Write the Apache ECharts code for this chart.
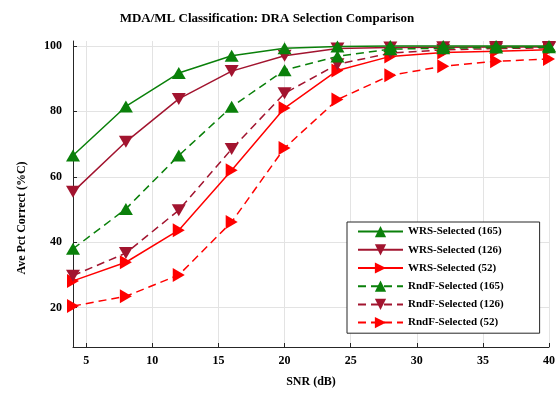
<!DOCTYPE html>
<html>
<head>
<meta charset="utf-8">
<script src="https://cdn.jsdelivr.net/npm/echarts@6/dist/echarts.min.js"></script>
<style>
  html, body { margin: 0; padding: 0; background: #fff; }
  #main { width: 558px; height: 393px; }
</style>
</head>
<body>
<div id="main"></div>
<script>
// SNR values (dB)
var snr = [4, 8, 12, 16, 20, 24, 28, 32, 36, 40];

// average percent correct per series
var wrs165 = [66.5, 81.5, 91.7, 97, 99.3, 99.8, 100, 100, 100, 100];
var wrs126 = [55.4, 70.7, 83.8, 92.3, 97, 99.2, 99.5, 99.6, 99.7, 99.7];
var wrs52 = [28.2, 33.9, 43.7, 62, 81, 92.5, 96.8, 98, 98.4, 98.8];
var rndf165 = [38, 50.2, 66.5, 81.4, 92.6, 96.8, 99, 99.3, 99.5, 99.6];
var rndf126 = [29.8, 36.7, 49.8, 68.5, 85.5, 94.4, 97.8, 98.8, 99.2, 99.4];
var rndf52 = [20.5, 23.5, 30, 46.2, 68.8, 83.6, 91, 93.8, 95.3, 96];

// tick labels
var xTicks = [5, 10, 15, 20, 25, 30, 35, 40];
var yTicks = [20, 40, 60, 80, 100];

var serif = '"Liberation Serif", "DejaVu Serif", serif';
var green = '#0a800a';
var darkRed = '#a2142f';
var red = '#ff0000';

function pairs(vals) {
    return snr.map(function (x, i) { return [x, vals[i]]; });
}

function makeSeries(name, vals, color, dashed, rot, z) {
    return {
        name: name,
        type: 'line',
        z: z,
        data: pairs(vals),
        symbol: 'triangle',
        symbolSize: [14, 12],
        symbolRotate: rot,
        showAllSymbol: true,
        itemStyle: { color: color },
        lineStyle: {
            color: color,
            width: 1.5,
            type: dashed ? [8, 5] : 'solid'
        },
        emphasis: { disabled: true },
        animation: false
    };
}

option = {
    backgroundColor: '#fff',
    title: {
        text: 'MDA/ML Classification: DRA Selection Comparison',
        left: 262,
        top: 7,
        textAlign: 'center',
        textStyle: {
            fontFamily: serif,
            fontWeight: 'bold',
            fontSize: 13,
            color: '#000'
        }
    },
    grid: {
        left: 73,
        right: 5,
        top: 41,
        bottom: 45
    },
    legend: {
        orient: 'vertical',
        left: 347,
        top: 222,
        padding: [4, 36, 5, 10],
        itemWidth: 45,
        itemHeight: 14,
        itemGap: 7,
        backgroundColor: '#fff',
        borderColor: '#262626',
        borderWidth: 1,
        borderRadius: 0,
        textStyle: {
            fontFamily: serif,
            fontWeight: 'bold',
            fontSize: 11,
            color: '#000'
        },
        data: ['WRS-Selected (165)', 'WRS-Selected (126)', 'WRS-Selected (52)',
               'RndF-Selected (165)', 'RndF-Selected (126)', 'RndF-Selected (52)']
    },
    xAxis: {
        type: 'value',
        min: 4,
        max: 40,
        name: 'SNR (dB)',
        nameLocation: 'middle',
        nameGap: 29,
        nameTextStyle: {
            fontFamily: serif,
            fontWeight: 'bold',
            fontSize: 12,
            color: '#000'
        },
        axisLine: { show: true, lineStyle: { color: '#262626', width: 1 } },
        axisTick: {
            show: true,
            inside: true,
            length: 4,
            customValues: xTicks,
            lineStyle: { color: '#262626' }
        },
        axisLabel: {
            customValues: xTicks,
            margin: 8,
            fontFamily: serif,
            fontWeight: 'bold',
            fontSize: 12,
            color: '#000'
        },
        splitLine: { show: true, lineStyle: { color: '#e3e3e3', width: 1 } }
    },
    yAxis: {
        type: 'value',
        min: 8,
        max: 101.5,
        axisLine: { show: true, lineStyle: { color: '#262626', width: 1 } },
        axisTick: {
            show: true,
            inside: true,
            length: 4,
            customValues: yTicks,
            lineStyle: { color: '#262626' }
        },
        axisLabel: {
            customValues: yTicks,
            margin: 11,
            fontFamily: serif,
            fontWeight: 'bold',
            fontSize: 12,
            color: '#000'
        },
        splitLine: { show: true, lineStyle: { color: '#e3e3e3', width: 1 } }
    },
    graphic: [{
        type: 'text',
        x: 22,
        y: 218,
        rotation: Math.PI / 2,
        style: {
            text: 'Ave Pct Correct (%C)',
            fontFamily: serif,
            fontWeight: 'bold',
            fontSize: 12,
            fill: '#000',
            textAlign: 'center',
            textVerticalAlign: 'middle'
        }
    }],
    series: [
        makeSeries('WRS-Selected (165)', wrs165, green, false, 0, 4),
        makeSeries('WRS-Selected (126)', wrs126, darkRed, false, 180, 2),
        makeSeries('WRS-Selected (52)', wrs52, red, false, -90, 2),
        makeSeries('RndF-Selected (165)', rndf165, green, true, 0, 3),
        makeSeries('RndF-Selected (126)', rndf126, darkRed, true, 180, 2),
        makeSeries('RndF-Selected (52)', rndf52, red, true, -90, 2)
    ]
};

var chart = echarts.init(document.getElementById('main'));
chart.setOption(option, true);
</script>
</body>
</html>
